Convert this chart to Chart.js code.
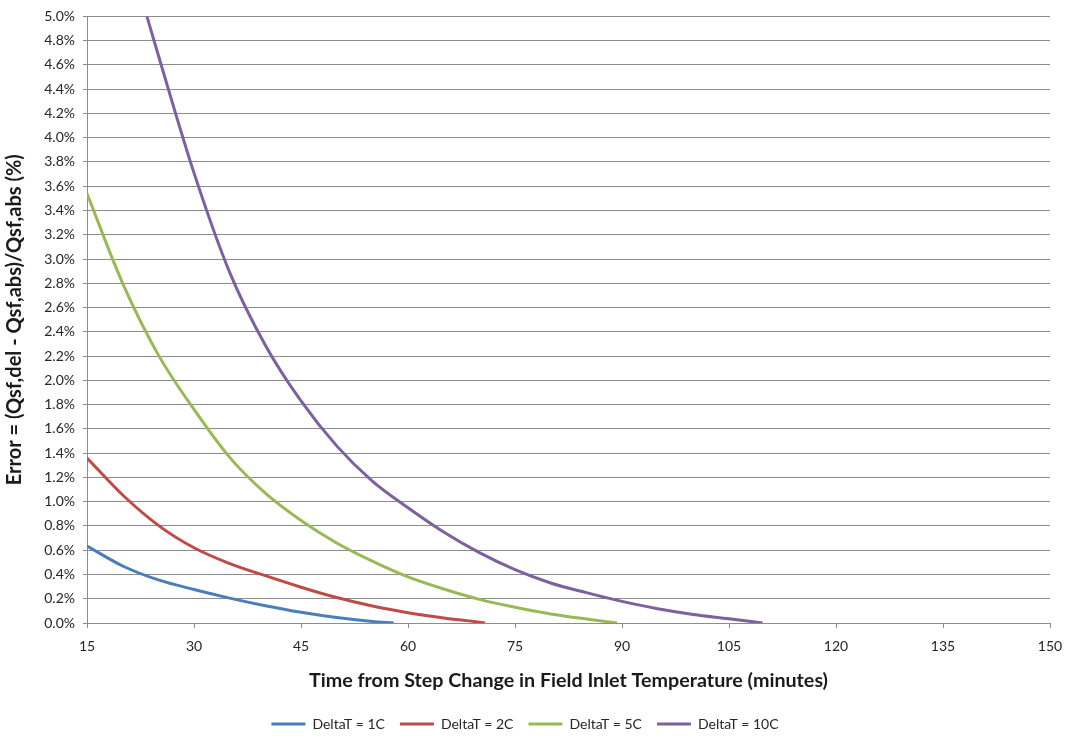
<!DOCTYPE html>
<html>
<head>
<meta charset="utf-8">
<script src="https://cdn.jsdelivr.net/npm/chart.js@4/dist/chart.umd.min.js"></script>
<style>
  html, body { margin: 0; padding: 0; background: #ffffff; }
  #wrap { width: 1065px; height: 736px; position: relative; }
</style>
</head>
<body>
<div id="wrap"><canvas id="c" width="1065" height="736"></canvas></div>
<script>
// ---- Data ----
const seriesNames = ['DeltaT = 1C', 'DeltaT = 2C', 'DeltaT = 5C', 'DeltaT = 10C'];
const seriesColors = ['#4a7ebb', '#be4b48', '#98b954', '#7d60a0'];

// minutes (x) and error in % (y)
const minutes1C = [15, 20, 25, 30, 35, 40, 45, 50, 55, 58];
const error1C   = [0.635, 0.47, 0.355, 0.276, 0.205, 0.142, 0.088, 0.045, 0.013, 0];

const minutes2C = [15, 20, 25, 30, 35, 40, 45, 50, 55, 60, 65, 70, 70.8];
const error2C   = [1.36, 1.055, 0.805, 0.62, 0.49, 0.39, 0.295, 0.21, 0.14, 0.085, 0.042, 0.007, 0];

const minutes5C = [15, 20, 25, 30, 35, 40, 45, 50, 55, 60, 65, 70, 75, 80, 85, 89.3];
const error5C   = [3.54, 2.80, 2.21, 1.76, 1.365, 1.07, 0.845, 0.66, 0.51, 0.38, 0.28, 0.195, 0.13, 0.075, 0.033, 0];

const minutes10C = [23.4, 25, 30, 35, 40, 45, 50, 55, 60, 65, 70, 75, 80, 85, 90, 95, 100, 105, 109.7];
const error10C   = [5.0, 4.68, 3.71, 2.89, 2.29, 1.83, 1.46, 1.17, 0.95, 0.75, 0.58, 0.44, 0.33, 0.25, 0.178, 0.117, 0.07, 0.035, 0];

const xTicks = [15, 30, 45, 60, 75, 90, 105, 120, 135, 150];
const yMin = 0, yMax = 5.0, yStep = 0.2;

const xTitle = 'Time from Step Change in Field Inlet Temperature (minutes)';
const yTitle = 'Error = (Qsf,del - Qsf,abs)/Qsf,abs (%)';

// ---- Build datasets ----
const xs = [minutes1C, minutes2C, minutes5C, minutes10C];
const ys = [error1C, error2C, error5C, error10C];
const datasets = seriesNames.map((name, i) => ({
  label: name,
  data: xs[i].map((x, j) => ({ x: x, y: ys[i][j] })),
  borderColor: seriesColors[i],
  backgroundColor: seriesColors[i],
  borderWidth: 3,
  pointRadius: 0,
  pointStyle: 'line',
  cubicInterpolationMode: 'monotone',
  fill: false
}));

const FONT = 'Lato, "Open Sans", "DejaVu Sans", sans-serif';
const gridColor = '#8c8c8c';

new Chart(document.getElementById('c'), {
  type: 'line',
  data: { datasets: datasets },
  options: {
    responsive: false,
    animation: false,
    layout: { padding: { top: 12, right: 15, bottom: -5, left: 0 } },
    plugins: {
      legend: {
        position: 'bottom',
        labels: {
          usePointStyle: true,
          pointStyleWidth: 34,
          boxHeight: 3,
          boxWidth: 34,
          padding: 15,
          color: '#262626',
          font: { family: FONT, size: 14 }
        }
      },
      tooltip: { enabled: false }
    },
    scales: {
      x: {
        type: 'linear',
        min: 15,
        max: 150,
        afterBuildTicks: (s) => { s.ticks = xTicks.map(v => ({ value: v })); },
        ticks: { color: '#262626', font: { family: FONT, size: 14 }, padding: 10, maxRotation: 0 },
        grid: { drawOnChartArea: false, drawTicks: true, tickLength: 5, color: gridColor },
        border: { color: gridColor, width: 1 },
        title: { display: true, text: xTitle, color: '#1a1a1a', font: { family: FONT, size: 19.7, weight: 'bold' }, padding: { top: 4, bottom: 10 } },
        afterFit: (s) => { s.height = 79; s.paddingRight = 0; s.paddingLeft = 0; }
      },
      y: {
        type: 'linear',
        min: yMin,
        max: yMax,
        ticks: { stepSize: yStep, color: '#262626', font: { family: FONT, size: 14 }, padding: 8,
                 callback: (v) => v.toFixed(1) + '%' },
        grid: { color: gridColor, lineWidth: 1, drawTicks: true, tickLength: 4 },
        border: { color: gridColor, width: 1 },
        title: { display: true, text: yTitle, color: '#1a1a1a', font: { family: FONT, size: 20, weight: 'bold' }, padding: { top: 3, bottom: 0 } },
        afterFit: (s) => { s.width = 87; }
      }
    }
  }
});
</script>
</body>
</html>
